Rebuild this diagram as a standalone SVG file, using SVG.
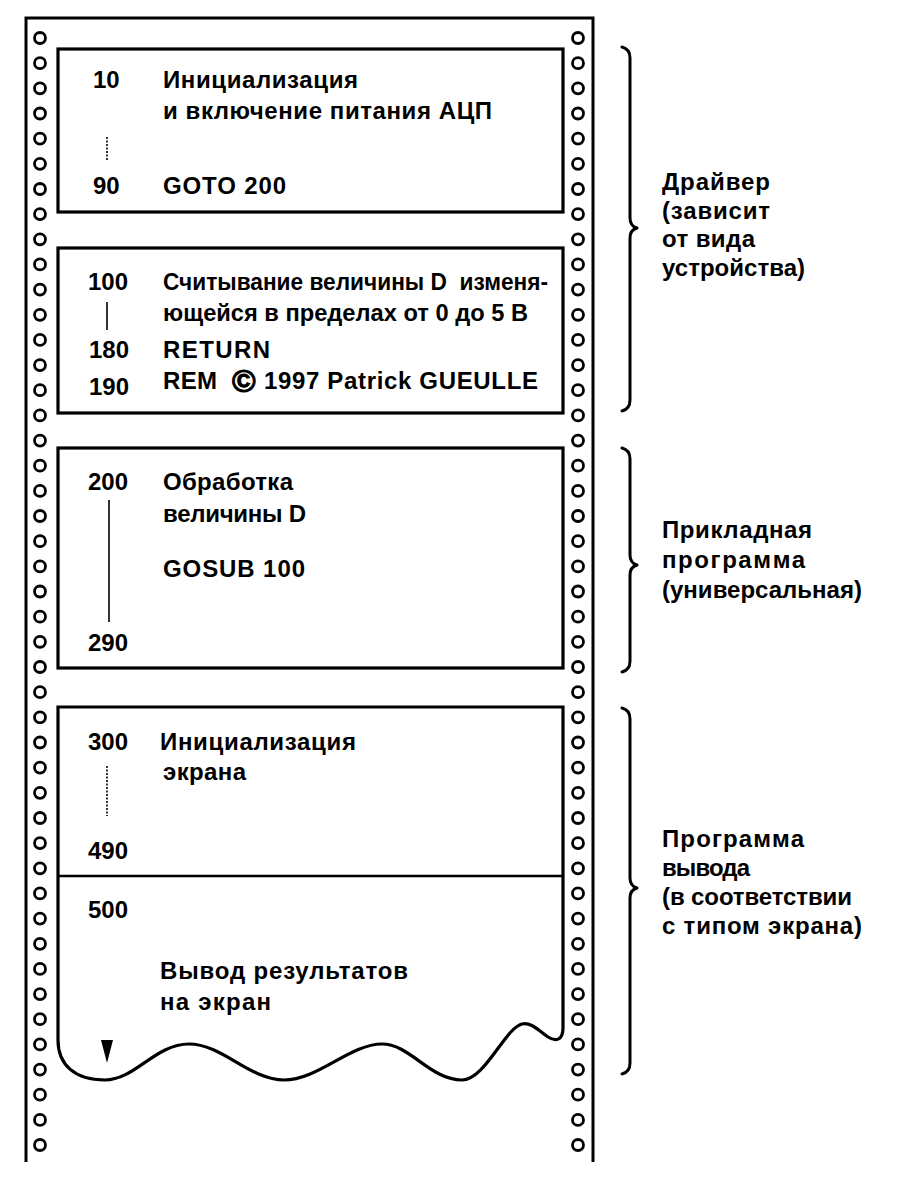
<svg xmlns="http://www.w3.org/2000/svg" xmlns:xlink="http://www.w3.org/1999/xlink" width="898" height="1180" viewBox="0 0 898 1180">
<defs>
<style>
.t{font-family:"Liberation Sans",Arial,sans-serif;font-size:24px;font-weight:bold;fill:#000}
.box{fill:none;stroke:#000;stroke-width:3.2}
.edge{fill:none;stroke:#000;stroke-width:3}
.br{fill:none;stroke:#000;stroke-width:3;stroke-linecap:round;stroke-linejoin:round}
.hole{fill:#fff;stroke:#000;stroke-width:2.8}
.vl{stroke:#000;stroke-width:1.6}
.dl{stroke:#000;stroke-width:1.6;stroke-dasharray:2 1.5}
</style>
<circle id="h" r="5.5" class="hole"/>
</defs>
<rect width="898" height="1180" fill="#fff"/>

<g id="paper">
<path class="edge" d="M26,1162 V18 H593 V1162"/>
<g id="holes-left">
<use xlink:href="#h" x="40" y="38"/><use xlink:href="#h" x="40" y="63.2"/><use xlink:href="#h" x="40" y="88.3"/><use xlink:href="#h" x="40" y="113.5"/><use xlink:href="#h" x="40" y="138.6"/><use xlink:href="#h" x="40" y="163.8"/><use xlink:href="#h" x="40" y="189"/><use xlink:href="#h" x="40" y="214.1"/><use xlink:href="#h" x="40" y="239.3"/><use xlink:href="#h" x="40" y="264.4"/><use xlink:href="#h" x="40" y="289.6"/><use xlink:href="#h" x="40" y="314.8"/><use xlink:href="#h" x="40" y="339.9"/><use xlink:href="#h" x="40" y="365.1"/><use xlink:href="#h" x="40" y="390.2"/><use xlink:href="#h" x="40" y="415.4"/><use xlink:href="#h" x="40" y="440.6"/><use xlink:href="#h" x="40" y="465.7"/><use xlink:href="#h" x="40" y="490.9"/><use xlink:href="#h" x="40" y="516"/><use xlink:href="#h" x="40" y="541.2"/><use xlink:href="#h" x="40" y="566.4"/><use xlink:href="#h" x="40" y="591.5"/><use xlink:href="#h" x="40" y="616.7"/><use xlink:href="#h" x="40" y="641.8"/><use xlink:href="#h" x="40" y="667"/><use xlink:href="#h" x="40" y="692.2"/><use xlink:href="#h" x="40" y="717.3"/><use xlink:href="#h" x="40" y="742.5"/><use xlink:href="#h" x="40" y="767.6"/><use xlink:href="#h" x="40" y="792.8"/><use xlink:href="#h" x="40" y="818"/><use xlink:href="#h" x="40" y="843.1"/><use xlink:href="#h" x="40" y="868.3"/><use xlink:href="#h" x="40" y="893.4"/><use xlink:href="#h" x="40" y="918.6"/><use xlink:href="#h" x="40" y="943.8"/><use xlink:href="#h" x="40" y="968.9"/><use xlink:href="#h" x="40" y="994.1"/><use xlink:href="#h" x="40" y="1019.2"/><use xlink:href="#h" x="40" y="1044.4"/><use xlink:href="#h" x="40" y="1069.6"/><use xlink:href="#h" x="40" y="1094.7"/><use xlink:href="#h" x="40" y="1119.9"/><use xlink:href="#h" x="40" y="1145"/>
</g>
<g id="holes-right">
<use xlink:href="#h" x="578" y="38"/><use xlink:href="#h" x="578" y="63.2"/><use xlink:href="#h" x="578" y="88.3"/><use xlink:href="#h" x="578" y="113.5"/><use xlink:href="#h" x="578" y="138.6"/><use xlink:href="#h" x="578" y="163.8"/><use xlink:href="#h" x="578" y="189"/><use xlink:href="#h" x="578" y="214.1"/><use xlink:href="#h" x="578" y="239.3"/><use xlink:href="#h" x="578" y="264.4"/><use xlink:href="#h" x="578" y="289.6"/><use xlink:href="#h" x="578" y="314.8"/><use xlink:href="#h" x="578" y="339.9"/><use xlink:href="#h" x="578" y="365.1"/><use xlink:href="#h" x="578" y="390.2"/><use xlink:href="#h" x="578" y="415.4"/><use xlink:href="#h" x="578" y="440.6"/><use xlink:href="#h" x="578" y="465.7"/><use xlink:href="#h" x="578" y="490.9"/><use xlink:href="#h" x="578" y="516"/><use xlink:href="#h" x="578" y="541.2"/><use xlink:href="#h" x="578" y="566.4"/><use xlink:href="#h" x="578" y="591.5"/><use xlink:href="#h" x="578" y="616.7"/><use xlink:href="#h" x="578" y="641.8"/><use xlink:href="#h" x="578" y="667"/><use xlink:href="#h" x="578" y="692.2"/><use xlink:href="#h" x="578" y="717.3"/><use xlink:href="#h" x="578" y="742.5"/><use xlink:href="#h" x="578" y="767.6"/><use xlink:href="#h" x="578" y="792.8"/><use xlink:href="#h" x="578" y="818"/><use xlink:href="#h" x="578" y="843.1"/><use xlink:href="#h" x="578" y="868.3"/><use xlink:href="#h" x="578" y="893.4"/><use xlink:href="#h" x="578" y="918.6"/><use xlink:href="#h" x="578" y="943.8"/><use xlink:href="#h" x="578" y="968.9"/><use xlink:href="#h" x="578" y="994.1"/><use xlink:href="#h" x="578" y="1019.2"/><use xlink:href="#h" x="578" y="1044.4"/><use xlink:href="#h" x="578" y="1069.6"/><use xlink:href="#h" x="578" y="1094.7"/><use xlink:href="#h" x="578" y="1119.9"/><use xlink:href="#h" x="578" y="1145"/>
</g>
</g>

<g id="block-init">
<rect class="box" x="58" y="49" width="505" height="163"/>
<text class="t" x="93" y="88">10</text>
<text class="t" x="163" y="88" textLength="195">Инициализация</text>
<text class="t" x="163" y="119" textLength="329">и включение питания АЦП</text>
<line class="dl" x1="107" y1="137" x2="107" y2="160"/>
<text class="t" x="93" y="194">90</text>
<text class="t" x="163" y="194" textLength="123">GOTO 200</text>
</g>

<g id="block-read">
<rect class="box" x="58" y="248" width="505" height="165"/>
<text class="t" x="88" y="290">100</text>
<text class="t" x="163" y="290" textLength="385" lengthAdjust="spacingAndGlyphs" xml:space="preserve">Считывание величины D  изменя-</text>
<line class="vl" x1="107" y1="302" x2="107" y2="330"/>
<text class="t" x="163" y="321" textLength="365" lengthAdjust="spacingAndGlyphs">ющейся в пределах от 0 до 5 В</text>
<text class="t" x="89" y="358">180</text>
<text class="t" x="163" y="358" textLength="107">RETURN</text>
<text class="t" x="89" y="395">190</text>
<text class="t" x="163" y="389" textLength="54">REM</text>
<text class="t" x="232" y="392" style="font-size:32px;stroke:#000;stroke-width:1.1">©</text>
<text class="t" x="264" y="389" textLength="274">1997 Patrick GUEULLE</text>
</g>

<g id="block-process">
<rect class="box" x="58" y="448" width="505" height="220"/>
<text class="t" x="88" y="490">200</text>
<text class="t" x="163" y="490" textLength="130">Обработка</text>
<text class="t" x="163" y="522" textLength="143">величины D</text>
<line class="vl" x1="109" y1="500" x2="109" y2="622"/>
<text class="t" x="163" y="577" textLength="142">GOSUB 100</text>
<text class="t" x="88" y="651">290</text>
</g>

<g id="block-output">
<path class="box" d="M58,707 H563 V1028 C563,1040 556,1042 548,1037 C538,1030 531,1022 522,1024 C505,1028 485,1080 462,1080 C430,1080 410,1044 382,1044 C350,1044 318,1080 284,1080 C250,1080 222,1044 189,1044 C155,1044 135,1080 105,1080 C75,1080 58,1065 58,1040 Z"/>
<line stroke="#000" stroke-width="2.6" x1="58" y1="876" x2="563" y2="876"/>
<text class="t" x="88" y="750">300</text>
<text class="t" x="160" y="750" textLength="196">Инициализация</text>
<text class="t" x="163" y="780" textLength="83">экрана</text>
<line class="dl" x1="107" y1="766" x2="107" y2="816"/>
<text class="t" x="88" y="859">490</text>
<text class="t" x="88" y="918">500</text>
<text class="t" x="160" y="979" textLength="248">Вывод результатов</text>
<text class="t" x="160" y="1010" textLength="111">на экран</text>
<polygon points="101,1040 113,1040 107,1063" fill="#000"/>
</g>

<g id="connectors">
<path class="br" d="M622,47 Q630,49 630,58 V218 Q630,226 637,228 Q630,230 630,238 V400 Q630,409 622,411"/>
<path class="br" d="M622,448 Q630,450 630,459 V555 Q630,563 637,565 Q630,567 630,575 V661 Q630,670 622,672"/>
<path class="br" d="M622,708 Q630,710 630,719 V878 Q630,886 637,888 Q630,890 630,898 V1063 Q630,1072 622,1074"/>
</g>

<g id="label-driver">
<text class="t" x="662" y="190" textLength="108">Драйвер</text>
<text class="t" x="662" y="219" textLength="108">(зависит</text>
<text class="t" x="662" y="247" textLength="93">от вида</text>
<text class="t" x="662" y="276" textLength="143">устройства)</text>
</g>
<g id="label-app">
<text class="t" x="662" y="538" textLength="150">Прикладная</text>
<text class="t" x="662" y="568" textLength="143">программа</text>
<text class="t" x="662" y="598" textLength="200">(универсальная)</text>
</g>
<g id="label-out">
<text class="t" x="662" y="847" textLength="142">Программа</text>
<text class="t" x="662" y="876" textLength="88">вывода</text>
<text class="t" x="662" y="905" textLength="190">(в соответствии</text>
<text class="t" x="662" y="934" textLength="200">с типом экрана)</text>
</g>
</svg>
